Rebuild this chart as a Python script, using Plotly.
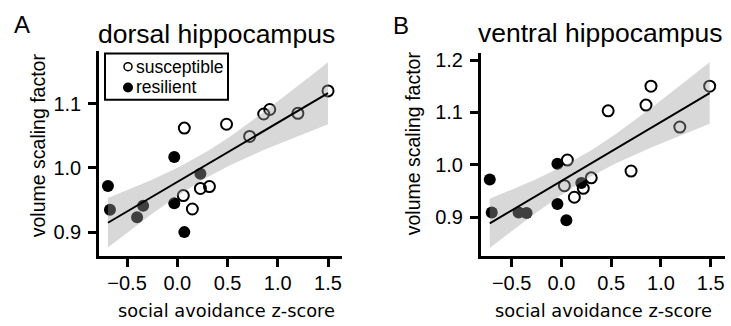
import numpy as np
import plotly.graph_objects as go

W, H = 731, 326

# Social avoidance z-scores and volume scaling factors per group
dorsal_sus_x = [0.06, 0.07, 0.15, 0.23, 0.32, 0.49, 0.72, 0.86, 0.92, 1.20, 1.50]
dorsal_sus_y = [0.957, 1.062, 0.936, 0.968, 0.971, 1.068, 1.049, 1.084, 1.091, 1.085, 1.120]
dorsal_res_x = [-0.69, -0.67, -0.40, -0.34, -0.03, -0.03, 0.07, 0.23]
dorsal_res_y = [0.972, 0.935, 0.923, 0.941, 1.017, 0.945, 0.900, 0.991]

ventral_sus_x = [0.03, 0.06, 0.13, 0.22, 0.30, 0.47, 0.70, 0.85, 0.90, 1.19, 1.49]
ventral_sus_y = [0.960, 1.009, 0.938, 0.955, 0.975, 1.103, 0.988, 1.114, 1.150, 1.072, 1.150]
ventral_res_x = [-0.72, -0.70, -0.43, -0.35, -0.04, -0.04, 0.05, 0.20]
ventral_res_y = [0.972, 0.909, 0.909, 0.908, 1.002, 0.925, 0.894, 0.965]

group_names = ["susceptible", "resilient"]

tick_vals_x = [-0.5, 0.0, 0.5, 1.0, 1.5]
tick_text_x = ["\u22120.5", "0.0", "0.5", "1.0", "1.5"]
dorsal_ticks_y = [0.9, 1.0, 1.1]
ventral_ticks_y = [0.9, 1.0, 1.1, 1.2]

T_CRIT = 2.110  # two-sided 95% t quantile, 17 degrees of freedom

SANS = "Liberation Sans, Arial, sans-serif"
WIDE = "DejaVu Sans, Verdana, sans-serif"

OPEN = dict(symbol="circle-open", color="black")
FILLED = dict(symbol="circle", color="black")


def linear_fit_band(x, y, n_grid=80):
    x = np.asarray(x, float)
    y = np.asarray(y, float)
    n = len(x)
    xm, ym = x.mean(), y.mean()
    sxx = np.sum((x - xm) ** 2)
    slope = np.sum((x - xm) * (y - ym)) / sxx
    icpt = ym - slope * xm
    resid = y - (icpt + slope * x)
    s = np.sqrt(np.sum(resid ** 2) / (n - 2))
    grid = np.linspace(x.min(), x.max(), n_grid)
    fit = icpt + slope * grid
    se = s * np.sqrt(1.0 / n + (grid - xm) ** 2 / sxx)
    return grid, fit, fit - T_CRIT * se, fit + T_CRIT * se


fig = go.Figure()

panels = [
    ("x", "y", dorsal_sus_x, dorsal_sus_y, dorsal_res_x, dorsal_res_y),
    ("x2", "y2", ventral_sus_x, ventral_sus_y, ventral_res_x, ventral_res_y),
]

for xa, ya, sx, sy, rx, ry in panels:
    fig.add_trace(go.Scatter(
        x=sx, y=sy, mode="markers", xaxis=xa, yaxis=ya, showlegend=False,
        marker=dict(size=11, line=dict(width=2, color="black"), **OPEN),
    ))
    fig.add_trace(go.Scatter(
        x=rx, y=ry, mode="markers", xaxis=xa, yaxis=ya, showlegend=False,
        marker=dict(size=12, line=dict(width=0), **FILLED),
    ))
    gx, gfit, glo, ghi = linear_fit_band(sx + rx, sy + ry)
    # confidence band sits above the points, so they show through it
    fig.add_trace(go.Scatter(
        x=np.concatenate([gx, gx[::-1]]),
        y=np.concatenate([ghi, glo[::-1]]),
        mode="lines", fill="toself", fillcolor="rgba(158,158,158,0.4)",
        line=dict(width=0), xaxis=xa, yaxis=ya, showlegend=False,
        hoverinfo="skip",
    ))
    fig.add_trace(go.Scatter(
        x=gx, y=gfit, mode="lines", line=dict(color="black", width=2),
        xaxis=xa, yaxis=ya, showlegend=False,
    ))

# legend key: a full-page pixel-space axis pair holds the two glyphs
key_x = 128
key_rows = [63.5, 84.5]
fig.add_trace(go.Scatter(
    x=[key_x], y=[key_rows[0]], mode="markers", xaxis="x3", yaxis="y3",
    showlegend=False, hoverinfo="skip",
    marker=dict(size=8, line=dict(width=1.5, color="black"), **OPEN),
))
fig.add_trace(go.Scatter(
    x=[key_x], y=[key_rows[1]], mode="markers", xaxis="x3", yaxis="y3",
    showlegend=False, hoverinfo="skip",
    marker=dict(size=10, **FILLED),
))

axis_common = dict(
    showline=True, linecolor="black", linewidth=2.5,
    ticks="outside", ticklen=8, tickwidth=2.5, tickcolor="black",
    showgrid=False, zeroline=False,
    tickfont=dict(family=SANS, size=20, color="black"),
)

fig.update_layout(
    width=W, height=H,
    margin=dict(l=0, r=0, t=0, b=0),
    paper_bgcolor="white", plot_bgcolor="rgba(0,0,0,0)",
    showlegend=False,
    xaxis=dict(domain=[99 / W, 341.7 / W], range=[-0.779, 1.636],
               tickvals=tick_vals_x, ticktext=tick_text_x, anchor="y",
               ticklabelstandoff=-1, **axis_common),
    yaxis=dict(domain=[1 - 255 / H, 1 - 48 / H], range=[0.863, 1.1815],
               tickvals=dorsal_ticks_y, ticktext=[f"{v:.1f}" for v in dorsal_ticks_y],
               anchor="x", ticklabelstandoff=3, **axis_common),
    xaxis2=dict(domain=[480.7 / W, 725 / W], range=[-0.811, 1.644],
                tickvals=tick_vals_x, ticktext=tick_text_x, anchor="y2",
                ticklabelstandoff=-1, **axis_common),
    yaxis2=dict(domain=[1 - 255 / H, 1 - 50 / H], range=[0.826, 1.2127],
                tickvals=ventral_ticks_y, ticktext=[f"{v:.1f}" for v in ventral_ticks_y],
                anchor="x2", ticklabelstandoff=3, **axis_common),
    xaxis3=dict(domain=[0, 1], range=[0, W], visible=False, fixedrange=True,
                anchor="y3"),
    yaxis3=dict(domain=[0, 1], range=[H, 0], visible=False, fixedrange=True,
                anchor="x3"),
    shapes=[dict(type="rect", xref="paper", yref="paper",
                 x0=105 / W, x1=228 / W, y0=1 - 97 / H, y1=1 - 50 / H,
                 line=dict(color="black", width=2), fillcolor="rgba(0,0,0,0)",
                 layer="above")],
)

annotations = [
    ("A", 21.5, 21, 24, SANS, 0, "center"),
    ("B", 401, 22, 24, SANS, 0, "center"),
    ("dorsal hippocampus", 216, 30, 26.5, SANS, 0, "center"),
    ("ventral hippocampus", 600, 29, 26.5, SANS, 0, "center"),
    ("volume scaling factor", 38, 143, 19.5, SANS, -90, "center"),
    ("volume scaling factor", 413, 141, 19.5, SANS, -90, "center"),
    ("social avoidance z-score", 226, 310, 17.8, WIDE, 0, "center"),
    ("social avoidance z-score", 603, 310, 17.8, WIDE, 0, "center"),
]
for (name, row) in zip(group_names, key_rows):
    annotations.append((name, 134, row, 17.5, SANS, 0, "left"))

for text, px, py, size, fam, ang, xanc in annotations:
    fig.add_annotation(
        text=text, x=px / W, y=1 - py / H, xref="paper", yref="paper",
        xanchor=xanc, yanchor="middle", showarrow=False, textangle=ang,
        font=dict(family=fam, size=size, color="black"),
    )

fig.write_html("out.html")
